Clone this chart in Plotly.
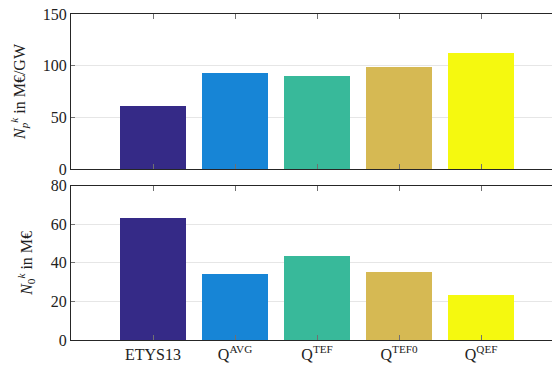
import plotly.graph_objects as go
from plotly.subplots import make_subplots

categories = ["ETYS13", "Q<sup>AVG</sup>", "Q<sup>TEF</sup>", "Q<sup>TEF0</sup>", "Q<sup>QEF</sup>"]
x_pos = [1, 2, 3, 4, 5]
np_values = [61, 92.9, 90, 98.7, 112.3]
n0_values = [63.2, 34.6, 43.5, 35.2, 23.3]
colors = ["#352a87", "#1785d6", "#38b99a", "#d6b953", "#f5f90f"]

fig = make_subplots(rows=2, cols=1, shared_xaxes=False, vertical_spacing=0.05)

fig.add_trace(go.Bar(x=x_pos, y=np_values, marker=dict(color=colors, line=dict(width=0)),
                     width=0.8, showlegend=False), row=1, col=1)
fig.add_trace(go.Bar(x=x_pos, y=n0_values, marker=dict(color=colors, line=dict(width=0)),
                     width=0.8, showlegend=False), row=2, col=1)

font = dict(family="Liberation Serif, Times New Roman, serif", size=16, color="#222222")

xcommon = dict(range=[0, 5.95], tickvals=x_pos, showline=True, linecolor="#262626", linewidth=1,
               mirror="ticks", ticks="inside", ticklen=5, tickcolor="#707070", showgrid=False,
               zeroline=False)
ycommon = dict(showline=True, linecolor="#262626", linewidth=1, mirror="ticks", ticks="inside",
               ticklen=4, tickcolor="#707070", showgrid=True, gridcolor="#e6e6e6", gridwidth=1,
               zeroline=False, tickfont=font, automargin=False, ticklabeloverflow="allow")

fig.update_xaxes(**xcommon, showticklabels=False, domain=[0, 1], row=1, col=1)
fig.update_xaxes(**xcommon, ticktext=categories, tickfont=font, ticklabeloverflow="allow",
                 domain=[0, 1], row=2, col=1)
fig.update_yaxes(**ycommon, range=[0, 150], tickvals=[0, 50, 100, 150], domain=[0.5245, 1],
                 title=dict(text="<i>N</i><sub><i>p</i></sub><sup><i>k</i></sup> in M€/GW", font=font, standoff=14),
                 row=1, col=1)
fig.update_yaxes(**ycommon, range=[0, 80], tickvals=[0, 20, 40, 60, 80], domain=[0, 0.4733],
                 title=dict(text="<i>N</i><sub>0</sub><sup><i>k</i></sup> in M€", font=font, standoff=14),
                 row=2, col=1)

# page body adds an 8px offset; figure sized to fill the remaining window
fig.update_layout(width=552, height=363, margin=dict(l=63, r=1, t=6, b=31, autoexpand=False),
                  paper_bgcolor="white", plot_bgcolor="white", font=font, bargap=0)

fig.write_html("out.html")
